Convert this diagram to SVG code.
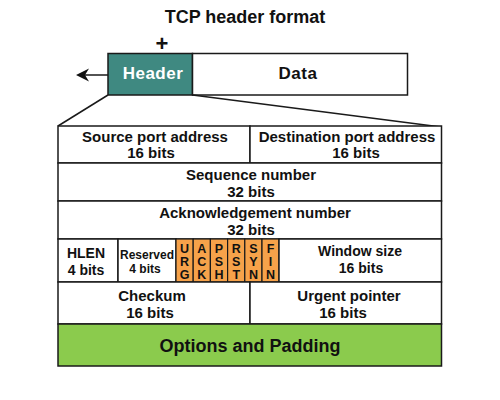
<svg xmlns="http://www.w3.org/2000/svg" width="500" height="400" viewBox="0 0 500 400">
<style>
text{font-family:"Liberation Sans",Arial,sans-serif;font-weight:bold;fill:#111;text-anchor:middle}
.cell{fill:#fff;stroke:#1a1a1a;stroke-width:1.5}
.flag{fill:#f6a24a;stroke:#1a1a1a;stroke-width:1.2}
.t15{font-size:15px}
.t14{font-size:14px}
.t12{font-size:12px}
.fl{font-size:12.5px}
.ln{stroke:#1a1a1a;stroke-width:1.5;fill:none}
</style>
<rect width="500" height="400" fill="#fff"/>
<text x="245" y="23" style="font-size:18px">TCP header format</text>
<text x="162" y="51" style="font-size:22px">+</text>
<g id="header">
<rect x="108" y="53.5" width="84.5" height="41.5" fill="#3f8981" stroke="#1a1a1a" stroke-width="1.5"/>
<text x="153" y="79" style="font-size:17px;fill:#fff;letter-spacing:0.5px">Header</text>
</g>
<g id="data">
<rect x="192.5" y="53.5" width="215" height="41.5" class="cell"/>
<text x="298" y="79" style="font-size:17px;letter-spacing:0.5px">Data</text>
</g>
<g id="connectors">
<line x1="108" y1="75" x2="82" y2="75" class="ln" stroke-width="2"/>
<path d="M76,75 L89,68.5 L85,75 L89,81.5 Z" fill="#111"/>
<line x1="108" y1="95" x2="58" y2="126" class="ln" stroke-width="1.2"/>
<line x1="192.5" y1="95" x2="441" y2="127" class="ln" stroke-width="1.2"/>
</g>
<g id="source-port">
<rect x="58" y="126" width="192" height="37" class="cell"/>
<text x="155" y="142" class="t15">Source port address</text>
<text x="151" y="158" class="t15">16 bits</text>
</g>
<g id="dest-port">
<rect x="250" y="126" width="191.5" height="37" class="cell"/>
<text x="347" y="142" class="t15">Destination port address</text>
<text x="356" y="158" class="t15">16 bits</text>
</g>
<g id="sequence">
<rect x="58" y="163" width="383.5" height="38" class="cell"/>
<text x="251" y="180" class="t15">Sequence number</text>
<text x="251" y="197" class="t15">32 bits</text>
</g>
<g id="ack">
<rect x="58" y="201" width="383.5" height="38" class="cell"/>
<text x="255" y="218" class="t15">Acknowledgement number</text>
<text x="251" y="235" class="t15">32 bits</text>
</g>
<g id="hlen">
<rect x="58" y="239" width="60" height="43" class="cell"/>
<text x="86" y="258" class="t14">HLEN</text>
<text x="86" y="275" class="t14">4 bits</text>
</g>
<g id="reserved">
<rect x="118" y="239" width="58" height="43" class="cell"/>
<text x="147" y="259" class="t12">Reserved</text>
<text x="145" y="273" class="t12">4 bits</text>
</g>
<g id="flags">
<rect x="176" y="239" width="17.2" height="43" class="flag"/>
<rect x="193.2" y="239" width="17.2" height="43" class="flag"/>
<rect x="210.4" y="239" width="17.2" height="43" class="flag"/>
<rect x="227.6" y="239" width="17.2" height="43" class="flag"/>
<rect x="244.8" y="239" width="17.2" height="43" class="flag"/>
<rect x="262" y="239" width="17" height="43" class="flag"/>
<text class="fl" x="184.6" y="252.5">U</text><text class="fl" x="184.6" y="265.5">R</text><text class="fl" x="184.6" y="278.5">G</text>
<text class="fl" x="201.8" y="252.5">A</text><text class="fl" x="201.8" y="265.5">C</text><text class="fl" x="201.8" y="278.5">K</text>
<text class="fl" x="219" y="252.5">P</text><text class="fl" x="219" y="265.5">S</text><text class="fl" x="219" y="278.5">H</text>
<text class="fl" x="236.2" y="252.5">R</text><text class="fl" x="236.2" y="265.5">S</text><text class="fl" x="236.2" y="278.5">T</text>
<text class="fl" x="253.4" y="252.5">S</text><text class="fl" x="253.4" y="265.5">Y</text><text class="fl" x="253.4" y="278.5">N</text>
<text class="fl" x="270.5" y="252.5">F</text><text class="fl" x="270.5" y="265.5">I</text><text class="fl" x="270.5" y="278.5">N</text>
</g>
<g id="window">
<rect x="279" y="239" width="162.5" height="43" class="cell"/>
<text x="360" y="256" class="t14">Window size</text>
<text x="361" y="273" class="t14">16 bits</text>
</g>
<g id="checksum">
<rect x="58" y="282" width="192" height="42" class="cell"/>
<text x="152" y="301" class="t15">Checkum</text>
<text x="150" y="318" class="t15">16 bits</text>
</g>
<g id="urgent">
<rect x="250" y="282" width="191.5" height="42" class="cell"/>
<text x="349" y="301" class="t15">Urgent pointer</text>
<text x="343" y="318" class="t15">16 bits</text>
</g>
<g id="options">
<rect x="58" y="324" width="383.5" height="42" fill="#8bcb4d" stroke="#1a1a1a" stroke-width="1.5"/>
<text x="250" y="352" style="font-size:18px">Options and Padding</text>
</g>
</svg>
